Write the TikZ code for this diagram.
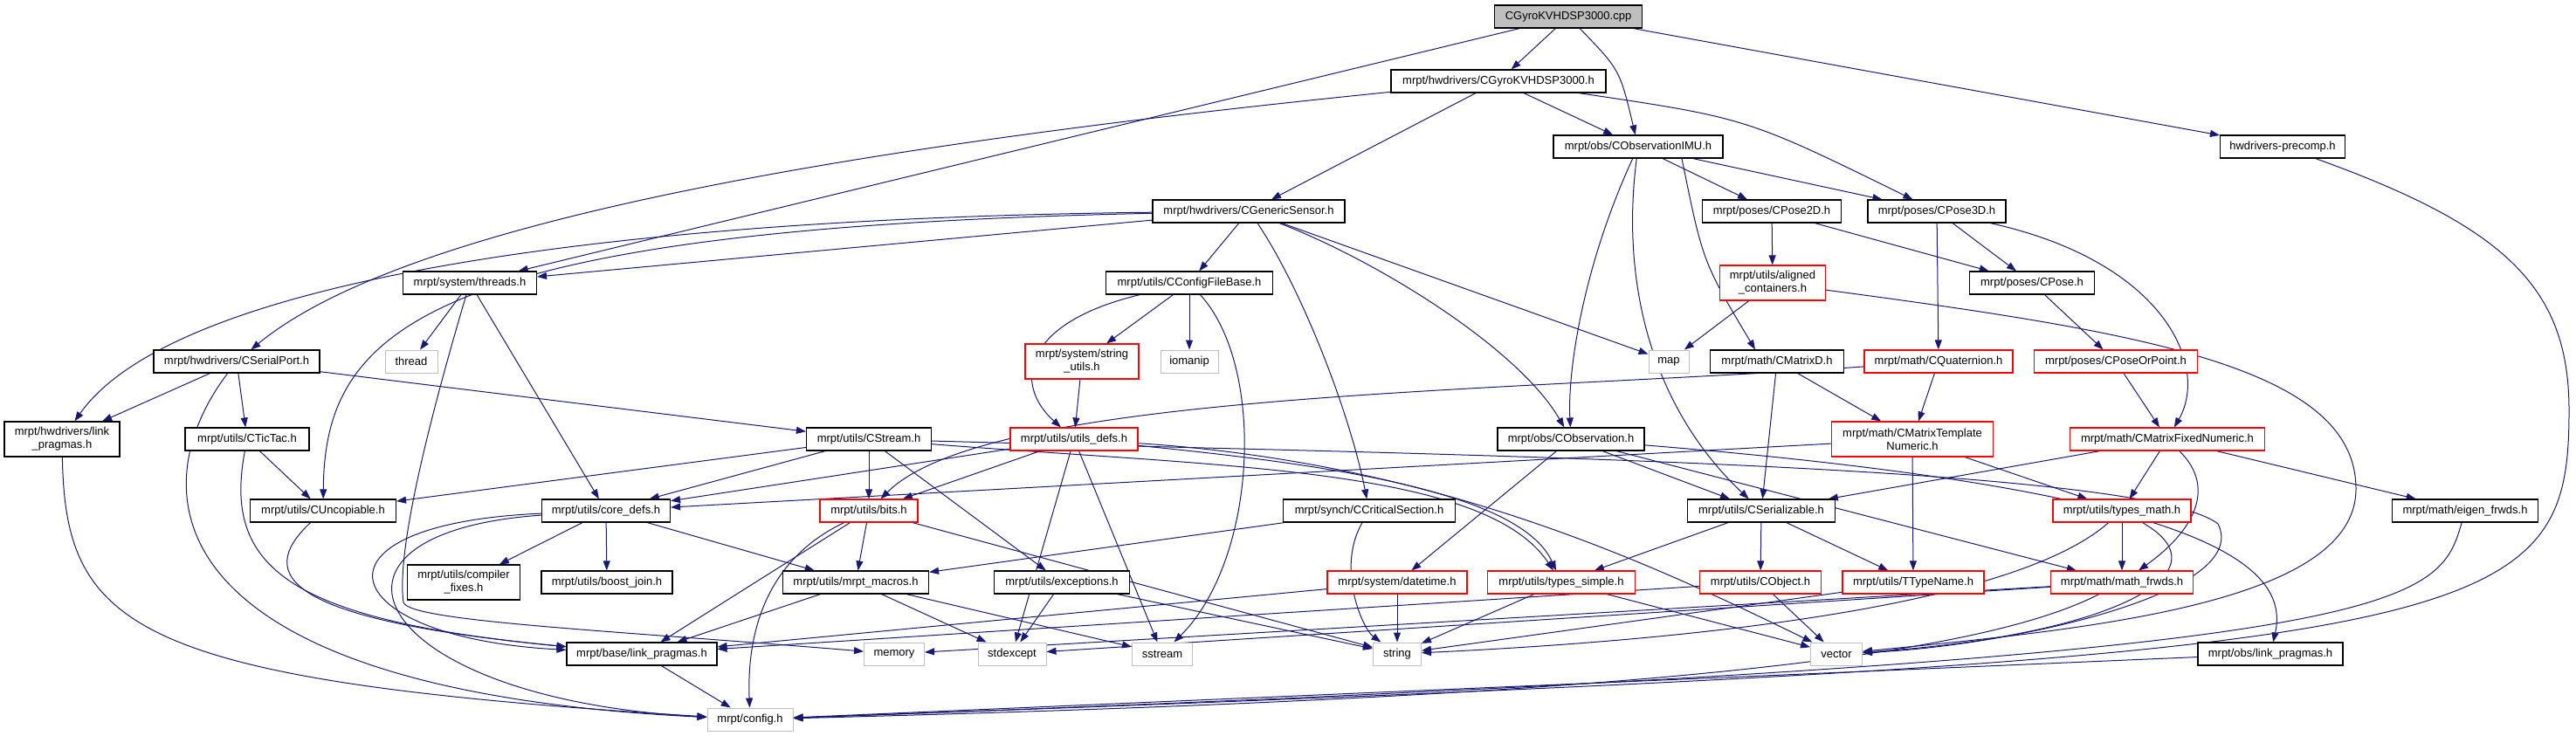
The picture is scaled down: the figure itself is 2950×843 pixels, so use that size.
\documentclass[tikz,border=0pt]{standalone}
\usepackage{fontspec}
\newfontfamily\hfont{Liberation Sans}
\usetikzlibrary{arrows.meta}
\definecolor{edgeblue}{HTML}{191970}
\definecolor{sysgray}{HTML}{BFBFBF}
\definecolor{trunc}{HTML}{FF0000}
\pgfdeclarelayer{edgelayer}
\pgfsetlayers{edgelayer,main}
\tikzset{
  hnode/.style={draw=black, line width=1.1pt, fill=white, minimum height=26pt, inner sep=0pt,
    font={\hfont\fontsize{13}{15}\selectfont}, text=black, align=center},
  rnode/.style={hnode, draw=trunc},
  gnode/.style={hnode, draw=sysgray, line width=1pt},
  topnode/.style={hnode, fill=sysgray},
  dep/.style={draw=edgeblue, line width=1pt, -{Triangle[length=11pt,width=8pt]}},
}
\begin{document}
\begin{tikzpicture}[x=1pt,y=-1pt]
\useasboundingbox (0,0) rectangle (2950,843);
% ---------- nodes ----------
\node[topnode, minimum width=169pt] (cpp) at (1796,19) {CGyroKVHDSP3000.cpp};
\node[hnode, minimum width=246pt] (gyroh) at (1716,93) {mrpt/hwdrivers/CGyroKVHDSP3000.h};
\node[hnode, minimum width=194pt] (imu) at (1876,168) {mrpt/obs/CObservationIMU.h};
\node[hnode, minimum width=143pt] (precomp) at (2614,168) {hwdrivers-precomp.h};
\node[hnode, minimum width=220pt] (gensens) at (1430,242) {mrpt/hwdrivers/CGenericSensor.h};
\node[hnode, minimum width=159pt] (pose2d) at (2029,242) {mrpt/poses/CPose2D.h};
\node[hnode, minimum width=158pt] (pose3d) at (2218,242) {mrpt/poses/CPose3D.h};
\node[hnode, minimum width=153pt] (threads) at (538,324) {mrpt/system/threads.h};
\node[hnode, minimum width=191pt] (cfgfile) at (1362,324) {mrpt/utils/CConfigFileBase.h};
\node[rnode, minimum width=121pt, minimum height=40pt] (aligned) at (2030,324) {mrpt/utils/aligned\\\_containers.h};
\node[hnode, minimum width=143pt] (cpose) at (2327,324) {mrpt/poses/CPose.h};
\node[hnode, minimum width=190pt] (serial) at (271,414) {mrpt/hwdrivers/CSerialPort.h};
\node[gnode, minimum width=60pt] (thread) at (471,414) {thread};
\node[rnode, minimum width=130pt, minimum height=40pt] (strutils) at (1239,414) {mrpt/system/string\\\_utils.h};
\node[gnode, minimum width=66pt] (iomanip) at (1362,414) {iomanip};
\node[gnode, minimum width=46pt] (map) at (1911,414) {map};
\node[hnode, minimum width=153pt] (cmatd) at (2035,414) {mrpt/math/CMatrixD.h};
\node[rnode, minimum width=170pt] (quat) at (2220,414) {mrpt/math/CQuaternion.h};
\node[rnode, minimum width=187pt] (poseorpt) at (2423,414) {mrpt/poses/CPoseOrPoint.h};
\node[hnode, minimum width=132pt, minimum height=40pt] (hwlink) at (71,503) {mrpt/hwdrivers/link\\\_pragmas.h};
\node[hnode, minimum width=142pt] (tictac) at (283,503) {mrpt/utils/CTicTac.h};
\node[hnode, minimum width=143pt] (stream) at (995,503) {mrpt/utils/CStream.h};
\node[rnode, minimum width=146pt] (utilsdefs) at (1230,503) {mrpt/utils/utils\_defs.h};
\node[hnode, minimum width=168pt] (cobs) at (1799,503) {mrpt/obs/CObservation.h};
\node[rnode, minimum width=185pt, minimum height=40pt] (cmtn) at (2190,503) {mrpt/math/CMatrixTemplate\\Numeric.h};
\node[rnode, minimum width=223pt] (cmfn) at (2482,503) {mrpt/math/CMatrixFixedNumeric.h};
\node[hnode, minimum width=167pt] (uncop) at (370,585) {mrpt/utils/CUncopiable.h};
\node[hnode, minimum width=147pt] (coredefs) at (694,585) {mrpt/utils/core\_defs.h};
\node[rnode, minimum width=112pt] (bits) at (995,585) {mrpt/utils/bits.h};
\node[hnode, minimum width=197pt] (critsec) at (1568,585) {mrpt/synch/CCriticalSection.h};
\node[hnode, minimum width=169pt] (serializ) at (2017,585) {mrpt/utils/CSerializable.h};
\node[rnode, minimum width=158pt] (typesmath) at (2430,585) {mrpt/utils/types\_math.h};
\node[hnode, minimum width=167pt] (eigen) at (2823,585) {mrpt/math/eigen\_frwds.h};
\node[hnode, minimum width=129pt, minimum height=40pt] (compfix) at (531,667) {mrpt/utils/compiler\\\_fixes.h};
\node[hnode, minimum width=150pt] (boostjoin) at (695,667) {mrpt/utils/boost\_join.h};
\node[hnode, minimum width=167pt] (macros) at (980,667) {mrpt/utils/mrpt\_macros.h};
\node[hnode, minimum width=155pt] (exceptions) at (1216,667) {mrpt/utils/exceptions.h};
\node[rnode, minimum width=160pt] (datetime) at (1600,667) {mrpt/system/datetime.h};
\node[rnode, minimum width=169pt] (typessimple) at (1788,667) {mrpt/utils/types\_simple.h};
\node[rnode, minimum width=139pt] (cobject) at (2016,667) {mrpt/utils/CObject.h};
\node[rnode, minimum width=162pt] (ttypename) at (2191,667) {mrpt/utils/TTypeName.h};
\node[rnode, minimum width=163pt] (mathfrwds) at (2430,667) {mrpt/math/math\_frwds.h};
\node[hnode, minimum width=172pt] (baselink) at (735,749) {mrpt/base/link\_pragmas.h};
\node[gnode, minimum width=69pt] (memory) at (1024,749) {memory};
\node[gnode, minimum width=78pt] (stdexcept) at (1159,749) {stdexcept};
\node[gnode, minimum width=69pt] (sstream) at (1331,749) {sstream};
\node[gnode, minimum width=55pt] (string) at (1600,749) {string};
\node[gnode, minimum width=59pt] (vector) at (2103,749) {vector};
\node[hnode, minimum width=166pt] (obslink) at (2600,749) {mrpt/obs/link\_pragmas.h};
\node[gnode, minimum width=98pt] (config) at (859,824) {mrpt/config.h};
% ---------- edges ----------
\begin{pgfonlayer}{edgelayer}
\draw[dep] (cpp) -- (gyroh);
\draw[dep] (cpp) .. controls (1855,80) .. (imu);
\draw[dep] (cpp) -- (precomp);
\draw[dep] (cpp) -- (threads);
\draw[dep] (gyroh) -- (gensens);
\draw[dep] (gyroh) -- (imu);
\draw[dep] (gyroh) .. controls (2000,135) .. (pose3d);
\draw[dep] (gyroh) .. controls (1000,165) and (470,250) .. (serial);
\draw[dep] (imu) -- (pose2d);
\draw[dep] (imu) -- (pose3d);
\draw[dep] (imu) .. controls (1815,300) and (1795,420) .. (cobs);
\draw[dep] (imu) .. controls (1855,330) and (1895,470) .. (serializ);
\draw[dep] ([xshift=50pt]imu.south) .. controls (1950,300) .. ([xshift=-25pt]cmatd.north);
\draw[dep] (gensens) -- (threads);
\draw[dep] (gensens) .. controls (700,250) and (200,320) .. (hwlink);
\draw[dep] (gensens) .. controls (480,262) and (372,380) .. (uncop);
\draw[dep] (gensens) -- (cfgfile);
\draw[dep] ([xshift=10pt]gensens.south) .. controls (1490,330) and (1545,470) .. (critsec);
\draw[dep] (gensens) .. controls (1580,300) and (1740,400) .. (cobs);
\draw[dep] (gensens) -- (map);
\draw[dep] (pose2d) -- (aligned);
\draw[dep] (pose2d) -- (cpose);
\draw[dep] (pose3d) -- (cpose);
\draw[dep] (pose3d) -- (quat);
\draw[dep] (pose3d) .. controls (2480,300) and (2530,420) .. (cmfn);
\draw[dep] (precomp) .. controls (2870,260) and (2942,330) .. (2942,470) .. controls (2942,730) and (2850,752) .. (config);
\draw[dep] (threads) -- (thread);
\draw[dep] (threads) .. controls (480,520) and (455,640) .. (462,690) .. controls (470,712) and (700,722) .. (memory);
\draw[dep] (threads) -- (coredefs);
\draw[dep] (serial) -- (hwlink);
\draw[dep] (serial) -- (tictac);
\draw[dep] (serial) .. controls (160,560) and (170,790) .. (config);
\draw[dep] (serial) -- (stream);
\draw[dep] (hwlink) .. controls (75,720) and (150,780) .. (config);
\draw[dep] (tictac) -- (uncop);
\draw[dep] (tictac) .. controls (255,650) and (330,710) .. (baselink);
\draw[dep] (uncop) .. controls (290,660) and (330,710) .. (baselink);
\draw[dep] (cfgfile) -- (strutils);
\draw[dep] (cfgfile) -- (iomanip);
\draw[dep] (cfgfile) .. controls (1170,370) and (1160,440) .. (utilsdefs);
\draw[dep] (cfgfile) .. controls (1450,420) and (1440,640) .. (sstream);
\draw[dep] (strutils) -- (utilsdefs);
\draw[dep] (stream) -- (uncop);
\draw[dep] (stream) -- (coredefs);
\draw[dep] (stream) -- (bits);
\draw[dep] (stream) -- (exceptions);
\draw[dep] (stream) .. controls (1400,535) and (1700,535) .. (typessimple);
\draw[dep] (stream) .. controls (1600,520) and (2450,530) .. (2540,600) .. controls (2580,680) and (2300,740) .. (vector);
\draw[dep] (utilsdefs) -- (coredefs);
\draw[dep] (utilsdefs) -- (bits);
\draw[dep] (utilsdefs) -- (stdexcept);
\draw[dep] (utilsdefs) -- (sstream);
\draw[dep] (utilsdefs) .. controls (1500,530) and (1740,560) .. (typessimple);
\draw[dep] (utilsdefs) .. controls (1650,530) and (1900,650) .. (vector);
\draw[dep] (cobs) -- (serializ);
\draw[dep] (cobs) -- (datetime);
\draw[dep] (cobs) .. controls (2500,560) and (2625,640) .. (obslink);
\draw[dep] (cobs) -- (mathfrwds);
\draw[dep] (cmatd) -- (serializ);
\draw[dep] (cmatd) -- (cmtn);
\draw[dep] (quat) -- (cmtn);
\draw[dep] (quat) .. controls (1700,450) and (1130,450) .. (bits);
\draw[dep] (poseorpt) -- (cmfn);
\draw[dep] (cpose) -- (poseorpt);
\draw[dep] (cmtn) -- (coredefs);
\draw[dep] (cmtn) -- (ttypename);
\draw[dep] (cmtn) -- (typesmath);
\draw[dep] (cmfn) -- (serializ);
\draw[dep] (cmfn) -- (typesmath);
\draw[dep] (cmfn) .. controls (2540,560) and (2510,610) .. (mathfrwds);
\draw[dep] (cmfn) -- (eigen);
\draw[dep] (aligned) -- (map);
\draw[dep] (aligned) .. controls (2450,380) and (2698,420) .. (2698,560) .. controls (2698,690) and (2400,720) .. (vector);
\draw[dep] (eigen) .. controls (2790,700) and (2760,755) .. (config);
\draw[dep] (obslink) -- (config);
\draw[dep] (critsec) -- (macros);
\draw[dep] (critsec) .. controls (1530,650) and (1560,720) .. (string);
\draw[dep] (datetime) -- (baselink);
\draw[dep] (datetime) -- (string);
\draw[dep] (typessimple) -- (string);
\draw[dep] (typessimple) -- (vector);
\draw[dep] (exceptions) -- (stdexcept);
\draw[dep] (exceptions) -- (string);
\draw[dep] (macros) -- (baselink);
\draw[dep] (macros) -- (stdexcept);
\draw[dep] (macros) -- (sstream);
\draw[dep] (bits) -- (macros);
\draw[dep] (bits) -- (baselink);
\draw[dep] (bits) .. controls (880,640) and (855,720) .. (config);
\draw[dep] (bits) -- (string);
\draw[dep] (coredefs) -- (compfix);
\draw[dep] (coredefs) -- (boostjoin);
\draw[dep] (coredefs) -- (macros);
\draw[dep] (coredefs) .. controls (340,600) and (380,730) .. (baselink);
\draw[dep] (coredefs) .. controls (330,610) and (420,800) .. (config);
\draw[dep] (baselink) -- (config);
\draw[dep] (typesmath) -- (mathfrwds);
\draw[dep] (typesmath) .. controls (2300,700) and (1900,735) .. (string);
\draw[dep] (typesmath) .. controls (2560,660) and (2400,730) .. (vector);
\draw[dep] (mathfrwds) -- (memory);
\draw[dep] (mathfrwds) -- (stdexcept);
\draw[dep] (mathfrwds) .. controls (2250,760) and (1800,800) .. (config);
\draw[dep] (ttypename) -- (string);
\draw[dep] (cobject) -- (baselink);
\draw[dep] (cobject) -- (vector);
\draw[dep] (serializ) -- (cobject);
\draw[dep] (serializ) -- (ttypename);
\draw[dep] (serializ) -- (typessimple);
\end{pgfonlayer}
\end{tikzpicture}
\end{document}
